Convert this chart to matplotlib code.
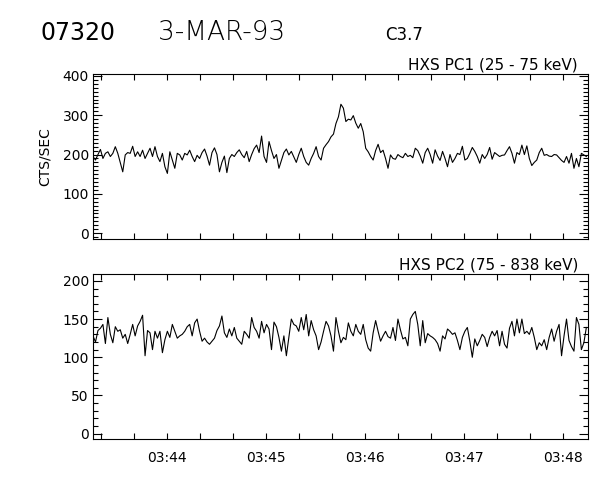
import numpy as np
import matplotlib
matplotlib.use('Agg')
import matplotlib.pyplot as plt
from matplotlib.ticker import MultipleLocator, FuncFormatter

# HXS count rates, 1.5 s cadence starting 03:43:15.4 UT
t_start = 3 * 3600 + 43 * 60 + 15.4
cadence = 1.5

pc1 = [195, 186, 200, 213, 190, 203, 207, 195, 203, 220,
       203, 180, 156, 199, 205, 203, 221, 195, 207, 195,
       211, 190, 203, 216, 195, 220, 195, 182, 203, 169,
       152, 207, 186, 165, 203, 199, 186, 203, 199, 211,
       195, 182, 198, 190, 205, 214, 196, 173, 205, 217,
       200, 156, 180, 196, 154, 190, 200, 195, 205, 212,
       200, 192, 208, 182, 200, 215, 224, 205, 247, 195,
       180, 233, 210, 190, 200, 165, 185, 205, 214, 199,
       208, 194, 180, 200, 216, 195, 180, 173, 190, 203,
       220, 195, 186, 216, 225, 233, 245, 252, 279, 296,
       328, 318, 284, 290, 288, 299, 280, 267, 279, 258,
       216, 207, 195, 186, 210, 226, 205, 211, 190, 165,
       199, 190, 188, 200, 195, 192, 203, 195, 198, 192,
       216, 210, 196, 178, 205, 216, 200, 178, 212, 196,
       185, 208, 190, 169, 200, 180, 190, 203, 200, 221,
       186, 190, 203, 218, 208, 195, 178, 200, 190, 200,
       218, 188, 205, 200, 195, 198, 199, 210, 220, 203,
       178, 205, 200, 224, 200, 222, 190, 172, 180, 186,
       205, 216, 198, 200, 196, 195, 200, 199, 192, 185,
       180, 195, 178, 203, 165, 190, 169, 203, 199, 195]

pc2 = [128, 120, 135, 138, 143, 118, 152, 130, 119, 140,
       134, 136, 125, 130, 118, 130, 143, 128, 141, 147,
       155, 102, 135, 132, 110, 134, 125, 134, 106, 123,
       134, 126, 143, 134, 125, 128, 130, 134, 140, 143,
       128, 145, 150, 134, 121, 125, 120, 117, 121, 125,
       135, 141, 154, 132, 126, 137, 128, 139, 125, 121,
       117, 134, 130, 125, 152, 139, 134, 125, 147, 132,
       143, 137, 110, 146, 140, 126, 108, 128, 102, 126,
       150, 143, 141, 134, 152, 136, 156, 128, 148, 136,
       128, 110, 120, 134, 147, 141, 128, 108, 152, 134,
       119, 126, 123, 145, 134, 128, 143, 134, 130, 143,
       123, 112, 108, 132, 148, 134, 121, 128, 134, 127,
       125, 139, 122, 150, 136, 124, 126, 115, 150, 156,
       160, 143, 115, 148, 119, 131, 128, 126, 123, 118,
       108, 128, 124, 137, 134, 130, 132, 122, 110, 126,
       134, 139, 121, 100, 124, 115, 122, 130, 126, 114,
       126, 134, 128, 135, 115, 134, 117, 112, 138, 147,
       128, 150, 132, 150, 131, 134, 130, 139, 126, 110,
       119, 115, 123, 110, 126, 137, 121, 134, 143, 102,
       128, 150, 122, 114, 108, 152, 143, 110, 119, 139]

panel_titles = ['HXS PC1 (25 - 75 keV)', 'HXS PC2 (75 - 838 keV)']
panel_ylims = [(-15, 405), (-7, 209)]
panel_major = [100, 50]

times = t_start + cadence * np.arange(len(pc1))


def hhmm(sec, pos):
    sec = int(round(sec))
    if sec % 60 != 0:
        return ''
    return '%02d:%02d' % (sec // 3600, (sec // 60) % 60)


fig = plt.figure(figsize=(6, 4.8), dpi=100)
ax1 = fig.add_axes([93 / 600, 1 - 239 / 480, 495 / 600, 165 / 480])
ax2 = fig.add_axes([93 / 600, 1 - 439 / 480, 495 / 600, 165 / 480])

for k, (ax, y) in enumerate([(ax1, pc1), (ax2, pc2)]):
    ax.plot(times, y, color='black', lw=0.8)
    ax.set_xlim(t_start, t_start + 299.5)
    ax.set_ylim(*panel_ylims[k])
    ax.xaxis.set_major_locator(MultipleLocator(20))
    ax.xaxis.set_major_formatter(FuncFormatter(hhmm))
    ax.yaxis.set_major_locator(MultipleLocator(panel_major[k]))
    ax.yaxis.set_minor_locator(MultipleLocator(10))
    ax.tick_params(axis='both', which='both', direction='in',
                   top=True, right=True, labelsize=10, width=0.8)
    ax.tick_params(axis='x', which='major', length=4, pad=9)
    ax.tick_params(axis='y', which='major', length=6.5, pad=3)
    ax.tick_params(axis='y', which='minor', length=3.5)
    for s in ax.spines.values():
        s.set_linewidth(0.8)
    ax.text(0.98, 1.01, panel_titles[k], transform=ax.transAxes,
            ha='right', va='bottom', fontsize=11)

ax1.tick_params(axis='x', labelbottom=False)

fig.text(45 / 600, 1 - 157 / 480, 'CTS/SEC', rotation=90,
         ha='center', va='center', fontsize=10)

fig.text(40 / 600, 1 - 40 / 480, '07320', fontsize=17,
         ha='left', va='baseline')
fig.text(158 / 600, 1 - 40 / 480, '3-MAR-93', fontsize=19, fontweight='light',
         ha='left', va='baseline')
fig.text(385 / 600, 1 - 40 / 480, 'C3.7', fontsize=12,
         ha='left', va='baseline')

fig.savefig('out.png', dpi=100, facecolor='white')
